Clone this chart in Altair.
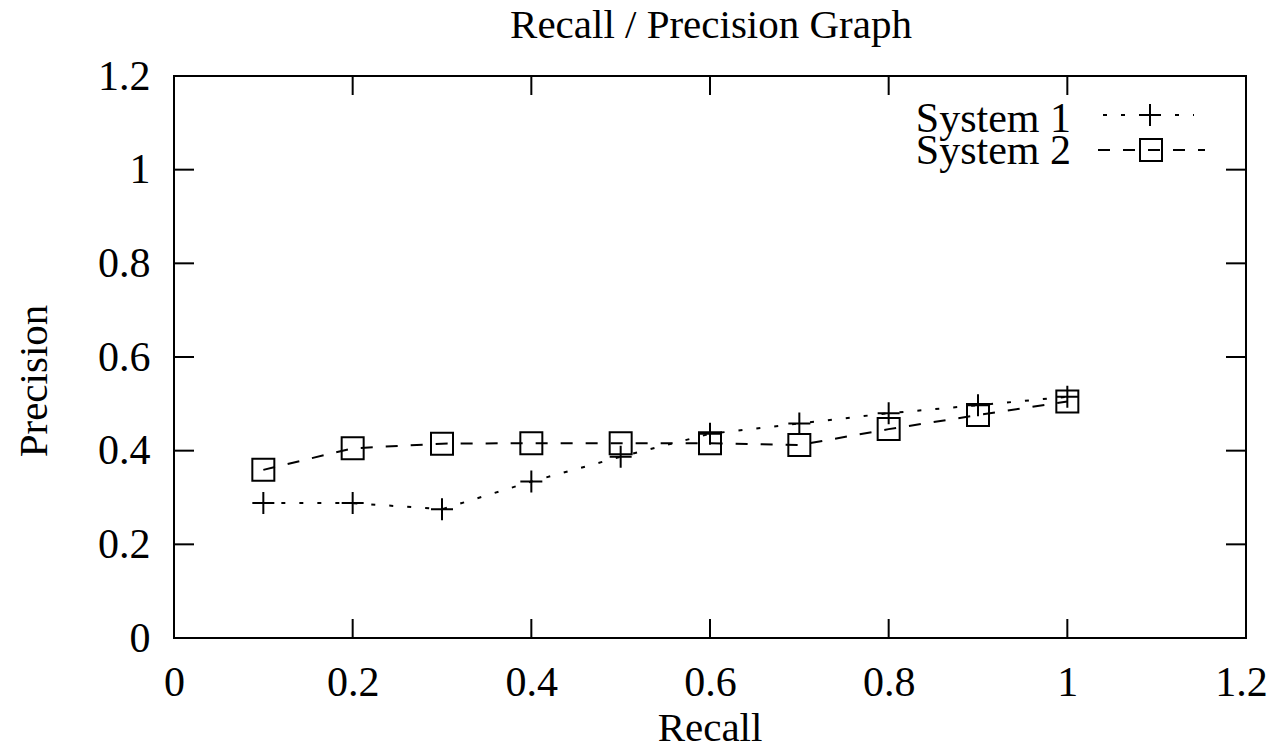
import altair as alt
import pandas as pd

# ---- data ----
recall = [0.1, 0.2, 0.3, 0.4, 0.5, 0.6, 0.7, 0.8, 0.9, 1.0]
system1 = [0.288, 0.288, 0.275, 0.334, 0.387, 0.436, 0.458, 0.480, 0.497, 0.515]
system2 = [0.359, 0.405, 0.415, 0.416, 0.416, 0.416, 0.412, 0.446, 0.476, 0.505]
series_names = ["System 1", "System 2"]
tick_values = [0, 0.2, 0.4, 0.6, 0.8, 1, 1.2]
title_text = "Recall / Precision Graph"
x_title = "Recall"
y_title = "Precision"

W, H = 1072, 562
FONT = "Liberation Serif"
PLUS = "M-1,0L1,0M0,-1L0,1"

df1 = pd.DataFrame({"Recall": recall, "Precision": system1, "series": series_names[0]})
df2 = pd.DataFrame({"Recall": recall, "Precision": system2, "series": series_names[1]})
ticks_df = pd.DataFrame({"t": tick_values})

xs = alt.Scale(domain=[0, 1.2], nice=False, zero=False)
ys = alt.Scale(domain=[0, 1.2], nice=False, zero=False)

xaxis = alt.Axis(values=tick_values, format="~g", grid=False, domain=False, ticks=False,
                 tickSize=0, labelPadding=24, labelFontSize=42, labelFont=FONT,
                 labelColor="black", labelFlush=False, labelOverlap=False, title=None,
                 labelOffset={"condition": {"test": "datum.value >= 1.15", "value": -5}, "value": 0})
yaxis = alt.Axis(values=tick_values, format="~g", grid=False, domain=False, ticks=False,
                 tickSize=0, labelPadding=24, labelFontSize=42, labelFont=FONT,
                 labelColor="black", labelFlush=False, labelOverlap=False, title=None)

X = alt.X("Recall:Q", scale=xs, axis=xaxis)
Y = alt.Y("Precision:Q", scale=ys, axis=yaxis)

# inward ticks on all four sides
tx = alt.X("t:Q", scale=xs, axis=xaxis)
ty = alt.Y("t:Q", scale=ys, axis=yaxis)
tick_base = alt.Chart(ticks_df).mark_rule(color="black", strokeWidth=2)
ticks_bottom = tick_base.encode(x=tx, y=alt.value(H), y2=alt.value(H - 19))
ticks_top = tick_base.encode(x=tx, y=alt.value(0), y2=alt.value(19))
ticks_left = tick_base.encode(y=ty, x=alt.value(0), x2=alt.value(20))
ticks_right = tick_base.encode(y=ty, x=alt.value(W), x2=alt.value(W - 20))

line1 = alt.Chart(df1).mark_line(color="black", strokeWidth=2, strokeDash=[4, 14]).encode(x=X, y=Y)
line2 = alt.Chart(df2).mark_line(color="black", strokeWidth=2, strokeDash=[12, 13]).encode(x=X, y=Y)
pts1 = alt.Chart(df1).mark_point(shape=PLUS, size=484, filled=False, stroke="black",
                                 strokeWidth=2, opacity=1).encode(x=X, y=Y)
pts2 = alt.Chart(df2).mark_point(shape="square", size=484, filled=False, stroke="black",
                                 strokeWidth=2, opacity=1).encode(x=X, y=Y)

# legend (gnuplot style: label left of sample)
leg1 = pd.DataFrame({"label": [series_names[0]]})
leg2 = pd.DataFrame({"label": [series_names[1]]})
leg_text1 = alt.Chart(leg1).mark_text(font=FONT, fontSize=42, align="right", baseline="alphabetic",
                                      color="black").encode(text="label:N", x=alt.value(897), y=alt.value(56))
leg_text2 = alt.Chart(leg2).mark_text(font=FONT, fontSize=42, align="right", baseline="alphabetic",
                                      color="black").encode(text="label:N", x=alt.value(897), y=alt.value(88))
leg_line1 = alt.Chart(leg1).mark_rule(color="black", strokeWidth=2, strokeDash=[4, 14]).encode(
    x=alt.value(929), x2=alt.value(1020), y=alt.value(39))
leg_line2 = alt.Chart(leg2).mark_rule(color="black", strokeWidth=2, strokeDash=[12, 13]).encode(
    x=alt.value(924), x2=alt.value(1031), y=alt.value(74))
leg_pt1 = alt.Chart(leg1).mark_point(shape=PLUS, size=484, filled=False, stroke="black",
                                     strokeWidth=2, opacity=1).encode(x=alt.value(976), y=alt.value(39))
leg_pt2 = alt.Chart(leg2).mark_point(shape="square", size=484, filled=False, stroke="black",
                                     strokeWidth=2, opacity=1).encode(x=alt.value(977), y=alt.value(74))

# titles
tdf = pd.DataFrame({"title": [title_text], "xt": [x_title], "yt": [y_title]})
title_mark = alt.Chart(tdf).mark_text(font=FONT, fontSize=41, align="center", baseline="alphabetic",
                                      color="black").encode(text="title:N", x=alt.value(537), y=alt.value(-38))
xtitle_mark = alt.Chart(tdf).mark_text(font=FONT, fontSize=41, align="center", baseline="alphabetic",
                                       color="black").encode(text="xt:N", x=alt.value(536), y=alt.value(665))
ytitle_mark = alt.Chart(tdf).mark_text(font=FONT, fontSize=41, align="center", baseline="alphabetic",
                                       angle=270, color="black").encode(text="yt:N", x=alt.value(-127), y=alt.value(305))

chart = alt.layer(
    ticks_bottom, ticks_top, ticks_left, ticks_right,
    line1, line2, pts1, pts2,
    leg_line1, leg_line2, leg_pt1, leg_pt2, leg_text1, leg_text2,
    title_mark, xtitle_mark, ytitle_mark,
).resolve_scale(x="shared", y="shared").properties(
    width=W, height=H,
    autosize=alt.AutoSizeParams(type="none"),
    padding={"left": 166, "top": 68, "right": 22, "bottom": 104},
    background="white",
).configure_view(stroke="black", strokeWidth=2)

chart.save("out.html", embed_options={"renderer": "svg", "actions": False})
